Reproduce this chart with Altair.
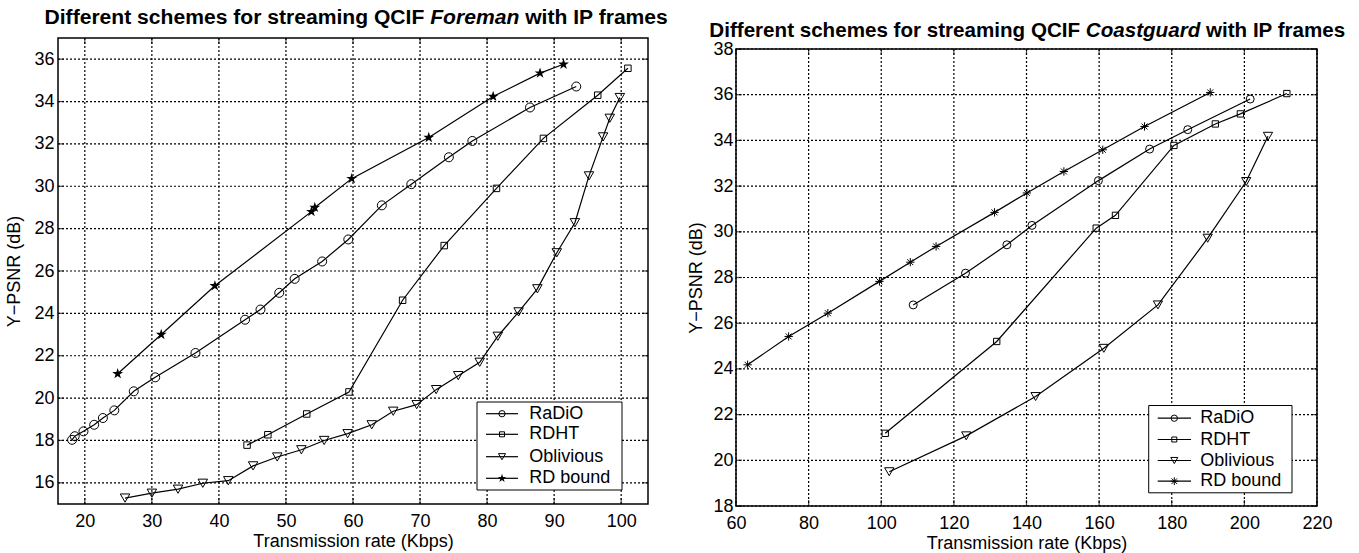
import altair as alt
import pandas as pd

# ---------------- data: Foreman (left panel) ----------------
f_radio_x = [18.1, 18.5, 19.8, 21.4, 22.7, 24.4, 27.3, 30.5, 36.5, 43.9, 46.2, 49.0, 51.3, 55.4, 59.3, 64.3, 68.7, 74.3, 77.8, 86.4, 93.3]
f_radio_y = [18.03, 18.2, 18.43, 18.74, 19.06, 19.42, 20.32, 20.98, 22.13, 23.7, 24.18, 24.97, 25.63, 26.45, 27.49, 29.1, 30.1, 31.37, 32.14, 33.72, 34.71]
f_rdht_x = [44.2, 47.3, 53.1, 59.4, 67.4, 73.6, 81.4, 88.4, 96.5, 101.0]
f_rdht_y = [17.78, 18.27, 19.25, 20.29, 24.62, 27.2, 29.9, 32.26, 34.3, 35.57]
f_obl_x = [26.0, 30.0, 33.9, 37.6, 41.4, 45.1, 48.7, 52.3, 55.7, 59.2, 62.8, 66.0, 69.5, 72.4, 75.7, 78.9, 81.6, 84.7, 87.5, 90.4, 93.1, 95.2, 97.3, 98.3, 99.8]
f_obl_y = [15.28, 15.51, 15.7, 15.98, 16.1, 16.8, 17.22, 17.56, 18.0, 18.32, 18.74, 19.38, 19.69, 20.4, 21.06, 21.69, 22.92, 24.07, 25.16, 26.86, 28.28, 30.49, 32.33, 33.21, 34.19]
f_rd_x = [24.9, 31.4, 39.4, 53.8, 54.3, 59.8, 71.3, 80.9, 87.9, 91.4]
f_rd_y = [21.15, 23.0, 25.3, 28.8, 29.0, 30.36, 32.3, 34.24, 35.34, 35.76]

# ---------------- data: Coastguard (right panel) ----------------
c_radio_x = [108.8, 123.2, 134.6, 141.5, 159.8, 173.9, 184.4, 201.6]
c_radio_y = [26.8, 28.19, 29.43, 30.28, 32.24, 33.62, 34.47, 35.81]
c_rdht_x = [101.1, 131.8, 159.2, 164.5, 180.6, 192.0, 198.9, 211.7]
c_rdht_y = [21.18, 25.2, 30.16, 30.72, 33.78, 34.72, 35.16, 36.05]
c_obl_x = [102.2, 123.4, 142.5, 161.3, 176.2, 189.9, 200.5, 206.5]
c_obl_y = [19.5, 21.07, 22.79, 24.9, 26.8, 29.72, 32.2, 34.18]
c_rd_x = [63.2, 74.5, 85.3, 99.5, 108.0, 115.1, 131.2, 140.1, 150.3, 161.0, 172.5, 190.6]
c_rd_y = [24.18, 25.42, 26.44, 27.83, 28.67, 29.36, 30.85, 31.70, 32.64, 33.59, 34.61, 36.1]

series_names = ["RaDiO", "RDHT", "Oblivious", "RD bound"]

f_xticks = [20, 30, 40, 50, 60, 70, 80, 90, 100]
f_yticks = [16, 18, 20, 22, 24, 26, 28, 30, 32, 34, 36]
c_xticks = [60, 80, 100, 120, 140, 160, 180, 200, 220]
c_yticks = [18, 20, 22, 24, 26, 28, 30, 32, 34, 36, 38]

FONT = "Liberation Sans"
STAR = "M0,-1L0.2245,-0.309L0.9511,-0.309L0.3633,0.118L0.5878,0.809L0,0.382L-0.5878,0.809L-0.3633,0.118L-0.9511,-0.309L-0.2245,-0.309Z"
ASTER = "M-1,0L1,0M0,-1L0,1M-0.71,-0.71L0.71,0.71M-0.71,0.71L0.71,-0.71"

dummy = pd.DataFrame({"a": [0]})


def long_df(xs_list, ys_list):
    rows = []
    for name, xs, ys in zip(series_names, xs_list, ys_list):
        for i, (x, y) in enumerate(zip(xs, ys)):
            rows.append({"series": name, "i": i, "x": x, "y": y})
    return pd.DataFrame(rows)


def panel(df, xdom, ydom, xticks, yticks, W, H, markers, title, leg, ylabpad, ytitlepad):
    xax = alt.Axis(values=xticks, title="Transmission rate (Kbps)", grid=False, ticks=False, domain=False,
                   labelFont=FONT, labelFontSize=18, labelColor="black", labelPadding=8,
                   titleFont=FONT, titleFontSize=18, titleFontWeight="normal", titleColor="black",
                   titlePadding=2, labelOverlap=False, labelFlush=False, format="d")
    yax = alt.Axis(values=yticks, title="Y\u2212PSNR (dB)", grid=False, ticks=False, domain=False,
                   labelFont=FONT, labelFontSize=18, labelColor="black", labelPadding=ylabpad,
                   titleFont=FONT, titleFontSize=18, titleFontWeight="normal", titleColor="black",
                   titlePadding=ytitlepad, labelOverlap=False, labelFlush=False, format="d")
    xs = alt.Scale(domain=xdom, nice=False, zero=False)
    ys = alt.Scale(domain=ydom, nice=False, zero=False)

    def X(field="x"):
        return alt.X(f"{field}:Q", scale=xs, axis=xax)

    def Y(field="y"):
        return alt.Y(f"{field}:Q", scale=ys, axis=yax)

    xt = pd.DataFrame({"x": xticks})
    yt = pd.DataFrame({"y": yticks})

    layers = []
    # dotted grid (full-span rules)
    layers.append(alt.Chart(xt).mark_rule(color="black", strokeWidth=1.2, strokeDash=[2, 2]).encode(x=X()))
    layers.append(alt.Chart(yt).mark_rule(color="black", strokeWidth=1.2, strokeDash=[2, 2]).encode(y=Y()))

    layers.append(alt.Chart(df).mark_line(color="black", strokeWidth=1.2).encode(
        x=X(), y=Y(), detail="series:N", order="i:Q"))
    for name, (shape, filled, size, lsize) in zip(series_names, markers):
        layers.append(alt.Chart(df).transform_filter(alt.datum.series == name).mark_point(
            shape=shape, filled=filled, size=size, color="black", strokeWidth=1, opacity=1).encode(
            x=X(), y=Y()))

    # inward tick marks on all four sides
    layers.append(alt.Chart(xt).mark_tick(color="black", thickness=1.2, size=6, orient="vertical").encode(
        x=X(), y=alt.value(H - 3)))
    layers.append(alt.Chart(xt).mark_tick(color="black", thickness=1.2, size=6, orient="vertical").encode(
        x=X(), y=alt.value(3)))
    layers.append(alt.Chart(yt).mark_tick(color="black", thickness=1.2, size=6, orient="horizontal").encode(
        y=Y(), x=alt.value(3)))
    layers.append(alt.Chart(yt).mark_tick(color="black", thickness=1.2, size=6, orient="horizontal").encode(
        y=Y(), x=alt.value(W - 3)))

    # title (three pieces, middle one italic)
    fs, ty, p1x, p2x, p3x, p1, p2, p3 = title
    layers.append(alt.Chart(dummy).mark_text(font=FONT, fontSize=fs, fontWeight="bold", align="right",
                                             baseline="alphabetic", color="black").encode(
        x=alt.value(p1x), y=alt.value(ty), text=alt.value(p1)))
    layers.append(alt.Chart(dummy).mark_text(font=FONT, fontSize=fs, fontWeight="bold", fontStyle="italic",
                                             align="left", baseline="alphabetic", color="black").encode(
        x=alt.value(p2x), y=alt.value(ty), text=alt.value(p2)))
    layers.append(alt.Chart(dummy).mark_text(font=FONT, fontSize=fs, fontWeight="bold", align="left",
                                             baseline="alphabetic", color="black").encode(
        x=alt.value(p3x), y=alt.value(ty), text=alt.value(p3)))

    # legend
    bx0, bx1, by0, by1, rows_y, sx0, sx1, mx, tx = leg
    layers.append(alt.Chart(dummy).mark_rect(fill="white", stroke="black", strokeWidth=1).encode(
        x=alt.value(bx0), x2=alt.value(bx1), y=alt.value(by0), y2=alt.value(by1)))
    for name, ry, (shape, filled, size, lsize) in zip(series_names, rows_y, markers):
        layers.append(alt.Chart(dummy).mark_rule(color="black", strokeWidth=1.2).encode(
            x=alt.value(sx0), x2=alt.value(sx1), y=alt.value(ry)))
        layers.append(alt.Chart(dummy).mark_point(shape=shape, filled=filled, size=lsize, color="black",
                                                  strokeWidth=1, opacity=1).encode(
            x=alt.value(mx), y=alt.value(ry)))
        layers.append(alt.Chart(dummy).mark_text(font=FONT, fontSize=18, align="left", baseline="middle",
                                                 color="black").encode(
            x=alt.value(tx), y=alt.value(ry), text=alt.value(name)))

    return alt.layer(*layers).properties(width=W, height=H)


f_df = long_df([f_radio_x, f_rdht_x, f_obl_x, f_rd_x], [f_radio_y, f_rdht_y, f_obl_y, f_rd_y])
c_df = long_df([c_radio_x, c_rdht_x, c_obl_x, c_rd_x], [c_radio_y, c_rdht_y, c_obl_y, c_rd_y])

left = panel(
    f_df, [16, 104], [15, 37], f_xticks, f_yticks, 590, 466,
    [("circle", False, 81, 40), ("square", False, 42, 25), ("triangle-down", False, 90, 50), (STAR, True, 130, 80)],
    (21.1, -14, 366.3, 372.2, 467.2, "Different schemes for streaming QCIF", "Foreman", "with IP frames"),
    (419, 564, 364, 452, [375.7, 396.3, 418.7, 440.3], 428, 460, 444, 471.3),
    4, 10)

right = panel(
    c_df, [60, 220], [18, 38], c_xticks, c_yticks, 581, 457,
    [("circle", False, 64, 40), ("square", False, 40, 25), ("triangle-down", False, 85, 50), (ASTER, False, 70, 60)],
    (20.6, -12.5, 344.1, 349.8, 470.0, "Different schemes for streaming QCIF", "Coastguard", "with IP frames"),
    (412.7, 556, 356.5, 443.8, [369.2, 390.5, 411.5, 432.2], 421.7, 455, 438.3, 464.3),
    3, 7)

spacer = alt.Chart(dummy).mark_point(opacity=0).encode(
    x=alt.value(0), y=alt.value(0)).properties(width=1, height=11, view=alt.ViewBackground(strokeOpacity=0))

chart = alt.hconcat(
    left,
    alt.vconcat(spacer, right, spacing=0, bounds="flush"),
    spacing=88, bounds="flush"
).configure_view(stroke="black", strokeWidth=1.5).properties(
    padding={"left": 5, "top": 6, "right": 5, "bottom": 0}, background="white")

chart.save("out.html", embed_options={"renderer": "svg", "actions": False})
